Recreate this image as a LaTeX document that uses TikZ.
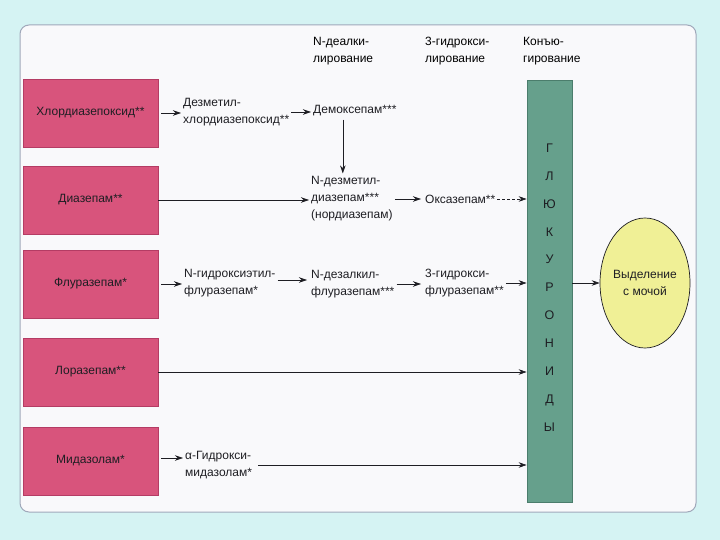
\documentclass[tikz,border=0pt]{standalone}
\usepackage{fontspec}
\setmainfont{Liberation Sans}
\usetikzlibrary{arrows.meta,shapes.geometric}
\definecolor{bgcyan}{RGB}{213,243,243}
\definecolor{cardfill}{RGB}{249,249,251}
\definecolor{cardline}{RGB}{160,168,186}
\definecolor{pinkfill}{RGB}{216,84,124}
\definecolor{pinkdark}{RGB}{180,60,100}
\definecolor{barfill}{RGB}{102,160,140}
\definecolor{bardark}{RGB}{75,125,108}
\definecolor{ellfill}{RGB}{240,240,150}
\definecolor{inkc}{RGB}{30,30,35}
\newcommand\diagfs{\fontsize{12}{17}\selectfont}
\tikzset{
  pinkbox/.style={draw=pinkdark, line width=0.8pt, fill=pinkfill, minimum width=135pt, minimum height=68pt, inner sep=0pt, font=\diagfs, text=inkc},
  lbl/.style={anchor=west, align=left, inner sep=0pt, font=\diagfs, text=inkc},
  hdr/.style={anchor=west, align=left, inner sep=0pt, font=\diagfs, text=black},
  arr/.style={-{Stealth[length=8pt,width=5.5pt]}, line width=0.6pt, draw=inkc},
}
\begin{document}
\begin{tikzpicture}[x=1pt,y=-1pt]
\useasboundingbox (0,0) rectangle (720,540);
\fill[bgcyan] (0,0) rectangle (720,540);
\draw[cardline, line width=1pt, fill=cardfill, rounded corners=9pt] (20,25) rectangle (696,512);

% headers
\node[hdr] (h1) at (313,51) {N-деалки-\\лирование};
\node[hdr] (h2) at (425,51) {3-гидрокси-\\лирование};
\node[hdr] (h3) at (523,51) {Конъю-\\гирование};

% left boxes
\node[pinkbox] (b1) at (90.5,113) {Хлордиазепоксид**};
\node[pinkbox] (b2) at (90.5,200) {Диазепам**};
\node[pinkbox] (b3) at (90.5,284) {Флуразепам*};
\node[pinkbox] (b4) at (90.5,372) {Лоразепам**};
\node[pinkbox] (b5) at (90.5,461) {Мидазолам*};

% bar and ellipse
\node[draw=bardark, line width=0.8pt, fill=barfill, minimum width=45pt, minimum height=422pt, inner sep=0pt] (bar) at (549.5,291) {};
\node[align=center, inner sep=0pt, font=\fontsize{12.5}{27.9}\selectfont, text=inkc] (letters) at (549.5,287.5) {Г\\Л\\Ю\\К\\У\\Р\\О\\Н\\И\\Д\\Ы};
\node[ellipse, draw=inkc, line width=0.7pt, fill=ellfill, minimum width=90pt, minimum height=130pt, inner sep=0pt, align=center, font=\diagfs, text=inkc] (ex) at (645,283) {Выделение\\с мочой};

% middle texts
\node[lbl] (t1) at (183,112) {Дезметил-\\хлордиазепоксид**};
\node[lbl] (t2) at (313,111) {Демоксепам***};
\node[lbl] (t3) at (311,199) {N-дезметил-\\диазепам***\\(нордиазепам)};
\node[lbl] (t4) at (425,199) {Оксазепам**};
\node[lbl] (t5) at (184,283) {N-гидроксиэтил-\\флуразепам*};
\node[lbl] (t6) at (311,284) {N-дезалкил-\\флуразепам***};
\node[lbl] (t7) at (425,283) {3-гидрокси-\\флуразепам**};
\node[lbl] (t8) at (185,465) {α-Гидрокси-\\мидазолам*};

% arrows
\draw[arr, shorten >=2pt, shorten <=3pt] (b1.east) -- (b1.east -| t1.west);
\draw[arr, shorten >=2pt, shorten <=2pt] (t1.east) -- (t1.east -| t2.west);
\draw[arr, shorten >=3pt, shorten <=3pt] ([xshift=-12pt]t2.south) -- ([xshift=-12pt]t2.south |- t3.north);
\draw[arr, shorten >=2pt] (b2.east) -- (b2.east -| t3.west);
\draw[arr, shorten >=4pt, shorten <=2pt] (t3.east) -- (t3.east -| t4.west);
\draw[arr, dash pattern=on 3pt off 2pt, shorten <=2pt] (t4.east) -- (t4.east -| bar.west);
\draw[arr, shorten >=2pt, shorten <=3pt] (b3.east) -- (b3.east -| t5.west);
\draw[arr, shorten >=4pt, shorten <=2pt] ([yshift=3pt]t5.east) -- ([yshift=3pt]t5.east -| t6.west);
\draw[arr, shorten >=4pt, shorten <=2pt] (t6.east) -- (t6.east -| t7.west);
\draw[arr, shorten <=2pt] (t7.east) -- (t7.east -| bar.west);
\draw[arr] (b4.east) -- (b4.east -| bar.west);
\draw[arr, shorten >=2pt, shorten <=3pt] ([yshift=3pt]b5.east) -- ([yshift=3pt]b5.east -| t8.west);
\draw[arr, shorten <=6pt] (t8.east) -- (t8.east -| bar.west);
\draw[arr] (bar.east |- ex.west) -- (ex.west);
\end{tikzpicture}
\end{document}
